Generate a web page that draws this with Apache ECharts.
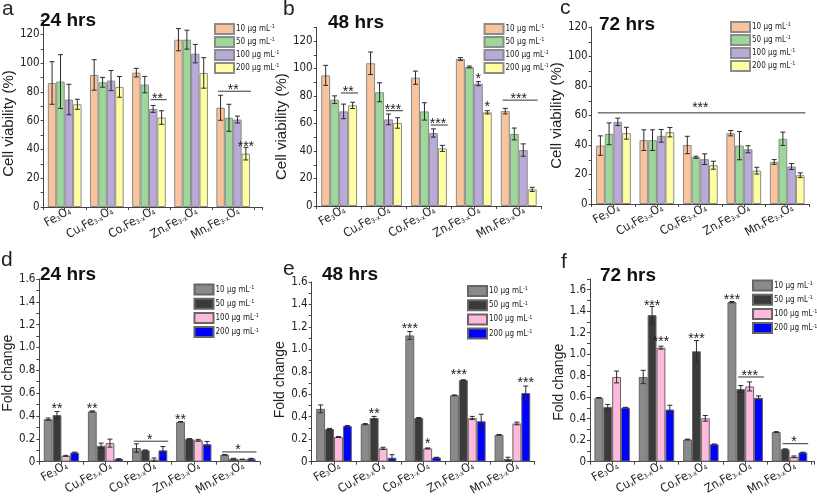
<!DOCTYPE html>
<html><head><meta charset="utf-8">
<script src="https://cdn.jsdelivr.net/npm/echarts@6/dist/echarts.min.js"></script>
<style>html,body{margin:0;padding:0;background:#fff}#c{width:817px;height:498px}</style>
</head><body><div id="c"></div>
<script>
// ---------- data ----------
const categories = [
  '{m|Fe}{s|3}{m|O}{s|4}',
  '{m|Cu}{s|x}{m|Fe}{s|3-x}{m|O}{s|4}',
  '{m|Co}{s|x}{m|Fe}{s|3-x}{m|O}{s|4}',
  '{m|Zn}{s|x}{m|Fe}{s|3-x}{m|O}{s|4}',
  '{m|Mn}{s|x}{m|Fe}{s|3-x}{m|O}{s|4}'
];
const concentrations = ['10 μg mL', '50 μg mL', '100 μg mL', '200 μg mL'];
const yTicksViability = [0, 20, 40, 60, 80, 100, 120];
const yTicksFold = [0, 0.2, 0.4, 0.6, 0.8, 1.0, 1.2, 1.4, 1.6];

// rows: 10, 50, 100, 200 µg/mL ; columns: Fe, Cu, Co, Zn, Mn
const via24Mean = [
  [86.2, 91.8, 93.4, 116.3, 69.0],
  [87.2, 86.7, 85.1, 116.3, 62.0],
  [74.7, 87.9, 68.2, 106.6, 60.8],
  [71.4, 83.5, 62.2, 93.2, 37.1]
];
const via24Err = [
  [14.8, 10.6, 3.0, 7.7, 8.7],
  [18.7, 3.4, 5.7, 6.6, 9.4],
  [10.6, 7.0, 2.4, 6.4, 2.4],
  [3.5, 7.2, 4.7, 10.6, 4.4]
];
const via48Mean = [
  [95.0, 103.8, 93.3, 106.9, 69.0],
  [77.3, 82.7, 68.8, 101.1, 52.4],
  [68.8, 63.0, 53.1, 89.0, 40.7],
  [73.2, 60.4, 41.9, 68.1, 12.1]
];
const via48Err = [
  [7.3, 8.2, 4.8, 1.0, 2.0],
  [2.8, 6.9, 6.3, 0.7, 4.3],
  [5.3, 3.9, 3.0, 1.5, 4.5],
  [2.3, 3.8, 2.2, 1.2, 1.5]
];
const via72Mean = [
  [39.6, 43.3, 40.0, 48.0, 28.5],
  [47.6, 43.3, 31.7, 39.6, 44.2],
  [55.7, 46.2, 30.4, 37.1, 25.4],
  [48.0, 48.7, 26.3, 22.6, 19.5]
];
const via72Err = [
  [6.6, 7.0, 5.9, 1.8, 1.6],
  [7.4, 7.0, 0.7, 9.6, 4.5],
  [2.5, 4.3, 3.6, 2.4, 2.0],
  [4.0, 3.2, 2.7, 2.3, 1.6]
];
const fold24Mean = [
  [0.372, 0.440, 0.119, 0.349, 0.060],
  [0.409, 0.139, 0.099, 0.199, 0.026],
  [0.051, 0.162, 0.017, 0.187, 0.020],
  [0.079, 0.023, 0.099, 0.153, 0.026]
];
const fold24Err = [
  [0.010, 0.005, 0.037, 0.002, 0.002],
  [0.030, 0.023, 0.003, 0.003, 0.003],
  [0.004, 0.035, 0.015, 0.008, 0.002],
  [0.004, 0.003, 0.033, 0.024, 0.003]
];
const fold48Mean = [
  [0.470, 0.334, 1.124, 0.591, 0.239],
  [0.291, 0.389, 0.389, 0.726, 0.023],
  [0.219, 0.118, 0.118, 0.389, 0.340],
  [0.317, 0.035, 0.037, 0.360, 0.611]
];
const fold48Err = [
  [0.035, 0.005, 0.035, 0.003, 0.003],
  [0.005, 0.014, 0.004, 0.003, 0.016],
  [0.004, 0.010, 0.004, 0.014, 0.012],
  [0.005, 0.027, 0.002, 0.062, 0.062]
];
const fold72Mean = [
  [0.594, 0.788, 0.206, 1.485, 0.276],
  [0.509, 1.364, 1.027, 0.676, 0.115],
  [0.788, 1.061, 0.403, 0.700, 0.045],
  [0.503, 0.485, 0.161, 0.594, 0.085]
];
const fold72Err = [
  [0.003, 0.062, 0.003, 0.006, 0.003],
  [0.024, 0.080, 0.100, 0.032, 0.004],
  [0.055, 0.014, 0.027, 0.042, 0.008],
  [0.003, 0.040, 0.003, 0.018, 0.003]
];
// significance marks: [catStart, seriesStart, catEnd, seriesEnd, lineValue|null, textValue, stars]
const sigVia24 = [[2,2,2,3,74.6,77.2,'**'], [4,0,4,3,80.5,83.0,'**'], [4,3,4,3,null,43.6,'***']];
const sigVia48 = [[0,2,0,3,82.2,85.1,'**'], [1,2,1,3,69.3,72.2,'***'], [2,2,2,3,58.9,61.8,'***'],
                  [3,2,3,2,null,94.5,'*'], [3,3,3,3,null,74.4,'*'], [4,0,4,3,77.0,80.0,'***']];
const sigVia72 = [[0,0,4,3,61.8,67.3,'***']];
const sigFold24 = [[0,1,0,1,null,0.49,'**'], [1,0,1,0,null,0.49,'**'], [2,0,2,3,0.179,0.218,'*'],
                   [3,0,3,0,null,0.39,'**'], [4,0,4,3,0.085,0.125,'*']];
const sigFold48 = [[1,1,1,1,null,0.447,'**'], [2,0,2,0,null,1.205,'***'], [2,2,2,2,null,0.187,'*'],
                   [3,0,3,1,null,0.795,'***'], [4,3,4,3,null,0.729,'***']];
const sigFold72 = [[1,1,1,1,null,1.479,'***'], [1,2,1,2,null,1.136,'***'], [2,1,2,1,null,1.17,'***'],
                   [3,0,3,0,null,1.533,'***'], [3,1,3,3,0.788,0.824,'***'], [4,1,4,3,0.167,0.206,'*']];

// ---------- styles ----------
const NARROW = '"Liberation Sans Narrow","Arial Narrow","DejaVu Sans Condensed",sans-serif';
const SANS = '"Liberation Sans",Arial,sans-serif';
const colorsV = ['#F9C49B', '#9DD799', '#B9AAD8', '#FFFFA2'];
const colorsF = ['#8A8A8A', '#3A3A3A', '#FFB9DC', '#0000FF'];

const panels = [
  {key:'a', letter:'a', title:'24 hrs', mean:via24Mean, err:via24Err, sig:sigVia24, colors:colorsV, border:'#8c8c8c',
   grid:{left:35.5, top:20, width:227.2, height:187}, xMax:5.7, yMax:130, yStep:10, ticks:yTicksViability,
   yName:'Cell viability (%)', nameGap:17, nameShift:20, nameSize:15,
   legend:{left:214, top:23, gap:1}, letterPos:[2,-1], titlePos:[40,11]},
  {key:'b', letter:'b', title:'48 hrs', mean:via48Mean, err:via48Err, sig:sigVia48, colors:colorsV, border:'#8c8c8c',
   grid:{left:316.7, top:27.25, width:224.5, height:178.75}, xMax:5.5, yMax:130, yStep:10, ticks:yTicksViability,
   yName:'Cell viability (%)', nameGap:20, nameShift:20, nameSize:15,
   legend:{left:483.5, top:23, gap:1}, letterPos:[283,-1], titlePos:[328,13]},
  {key:'c', letter:'c', title:'72 hrs', mean:via72Mean, err:via72Err, sig:sigVia72, colors:colorsV, border:'#8c8c8c',
   grid:{left:591.7, top:27, width:217.25, height:177}, xMax:5.5, yMax:120, yStep:10, ticks:yTicksViability,
   yName:'Cell viability (%)', nameGap:17, nameShift:0, nameSize:15,
   legend:{left:730, top:21, gap:1}, letterPos:[560,-2], titlePos:[599,15]},
  {key:'d', letter:'d', title:'24 hrs', mean:fold24Mean, err:fold24Err, sig:sigFold24, colors:colorsF, border:'#666',
   grid:{left:35, top:279, width:225, height:188}, xMax:5.5, yMax:1.6, yStep:0.1, ticks:yTicksFold,
   yName:'Fold change', nameGap:20, nameShift:6, nameSize:14,
   legend:{left:193.5, top:283.5, gap:2.2}, letterPos:[1,250], titlePos:[40,265]},
  {key:'e', letter:'e', title:'48 hrs', mean:fold48Mean, err:fold48Err, sig:sigFold48, colors:colorsF, border:'#666',
   grid:{left:311.7, top:282, width:223, height:185}, xMax:5.5, yMax:1.6, yStep:0.1, ticks:yTicksFold,
   yName:'Fold change', nameGap:20, nameShift:16, nameSize:14,
   legend:{left:467, top:285, gap:2.2}, letterPos:[283,259], titlePos:[322,265]},
  {key:'f', letter:'f', title:'72 hrs', mean:fold72Mean, err:fold72Err, sig:sigFold72, colors:colorsF, border:'#666',
   grid:{left:590, top:279, width:225, height:188}, xMax:5.56, yMax:1.7, yStep:0.1, ticks:yTicksFold,
   yName:'Fold change', nameGap:22, nameShift:24, nameSize:14,
   legend:{left:752, top:279.5, gap:2.2}, letterPos:[561,252], titlePos:[600,266]}
];

function errRender(params, api) {
  const x = api.value(0), m = api.value(1), e = api.value(2), s = api.value(3);
  const band = api.size([1, 0])[0];
  const bw = band * 0.8 / 4;
  const cx = api.coord([x, m])[0] + (s - 1.5) * bw;
  const yT = api.coord([x, m + e])[1], yB = api.coord([x, m - e])[1];
  const cap = 2.5, st = {stroke:'#2a2a2a', lineWidth:1};
  return {type:'group', children:[
    {type:'line', shape:{x1:cx, y1:yT, x2:cx, y2:yB}, style:st},
    {type:'line', shape:{x1:cx-cap, y1:yT, x2:cx+cap, y2:yT}, style:st},
    {type:'line', shape:{x1:cx-cap, y1:yB, x2:cx+cap, y2:yB}, style:st}
  ]};
}
function sigRender(sig) {
  return function (params, api) {
    const [c0, s0, c1, s1, ly, ty, stars] = sig[params.dataIndex];
    const band = api.size([1, 0])[0];
    const bw = band * 0.2;
    const x0 = api.coord([c0 + 1, 0])[0] + (s0 - 1.5) * bw - 0.5 * bw;
    const x1 = api.coord([c1 + 1, 0])[0] + (s1 - 1.5) * bw + 0.5 * bw;
    const children = [];
    if (ly !== null) {
      const y = api.coord([c0 + 1, ly])[1];
      children.push({type:'line', shape:{x1:x0 + 0.2 * bw, y1:y, x2:x1 + 0.1 * bw, y2:y},
        style:{stroke:'#333', lineWidth:1}});
    }
    const yt = api.coord([c0 + 1, ty])[1];
    children.push({type:'text', x:(x0 + x1) / 2, y:yt + 3,
      style:{text:stars, fontSize:14, fontFamily:SANS, fill:'#222', align:'center', verticalAlign:'middle'}});
    return {type:'group', children};
  };
}

const option = {animation:false, grid:[], xAxis:[], yAxis:[], series:[], legend:[], title:[]};
panels.forEach((p, pi) => {
  option.grid.push(Object.assign({containLabel:false}, p.grid));
  option.xAxis.push({
    type:'value', gridIndex:pi, min:0.5, max:p.xMax, interval:0.5,
    splitLine:{show:false},
    axisLine:{show:true, lineStyle:{color:'#444', width:1}},
    axisTick:{show:true, length:3, lineStyle:{color:'#444'}},
    axisLabel:{
      rotate:30, margin:6, color:'#222', padding:[0,-6,0,0],
      formatter: v => (Math.abs(v - Math.round(v)) < 1e-6 && v >= 1 && v <= 5) ? categories[Math.round(v) - 1] : '',
      rich:{m:{fontSize:12, fontFamily:NARROW, color:'#222'},
            s:{fontSize:6.5, fontFamily:NARROW, color:'#222', verticalAlign:'bottom', lineHeight:5}}
    }
  });
  const isFold = p.yMax < 10;
  option.yAxis.push({
    type:'value', gridIndex:pi, min:0, max:p.yMax, interval:p.yStep,
    splitLine:{show:false},
    axisLine:{show:true, lineStyle:{color:'#444', width:1}},
    axisTick:{show:true, length:3, lineStyle:{color:'#444'}},
    axisLabel:{
      margin:4, color:'#222', fontSize:11.5, fontFamily:NARROW,
      formatter: v => {
        const hit = p.ticks.find(t => Math.abs(t - v) < 1e-6);
        if (hit === undefined) return '';
        return isFold ? (hit === 0 ? '0' : hit.toFixed(1)) : String(hit);
      }
    },
    name:p.yName, nameLocation:'middle', nameGap:p.nameGap, nameRotate:90,
    nameTextStyle:{fontSize:p.nameSize, fontFamily:SANS, color:'#222', padding:[0, p.nameShift, 0, 0]}
  });
  const names = [];
  p.mean.forEach((row, si) => {
    const nm = p.key + si;
    names.push(nm);
    option.series.push({
      type:'bar', name:nm, xAxisIndex:pi, yAxisIndex:pi,
      barGap:'0%', barCategoryGap:'20%',
      itemStyle:{color:p.colors[si], borderColor:p.border, borderWidth:1},
      data: row.map((v, ci) => [ci + 1, v])
    });
  });
  const errData = [];
  p.mean.forEach((row, si) => row.forEach((v, ci) => errData.push([ci + 1, v, p.err[si][ci], si])));
  option.series.push({type:'custom', xAxisIndex:pi, yAxisIndex:pi, renderItem:errRender, data:errData, z:5});
  option.series.push({type:'custom', xAxisIndex:pi, yAxisIndex:pi, renderItem:sigRender(p.sig),
    data:p.sig.map(s => [s[0] + 1, s[5]]), z:6});
  option.legend.push({
    orient:'vertical', left:p.legend.left, top:p.legend.top, padding:0,
    itemWidth:19, itemHeight:10, itemGap:p.legend.gap, icon:'rect', selectedMode:false,
    data:names,
    formatter: nm => '{n|' + concentrations[+nm.slice(1)] + '}{u|-1}',
    textStyle:{padding:[0,0,0,-3], rich:{
      n:{fontSize:8, fontFamily:NARROW, color:'#222', lineHeight:10},
      u:{fontSize:5.5, fontFamily:NARROW, color:'#222', verticalAlign:'top', lineHeight:8}
    }}
  });
  option.title.push({text:p.letter, left:p.letterPos[0], top:p.letterPos[1], padding:0,
    textStyle:{fontSize:21, fontWeight:'normal', fontFamily:SANS, color:'#222'}});
  option.title.push({text:p.title, left:p.titlePos[0], top:p.titlePos[1], padding:0,
    textStyle:{fontSize:19, fontWeight:'bold', fontFamily:SANS, color:'#111'}});
});

const chart = echarts.init(document.getElementById('c'), null, {renderer:'canvas'});
chart.setOption(option);
</script>
</body></html>
